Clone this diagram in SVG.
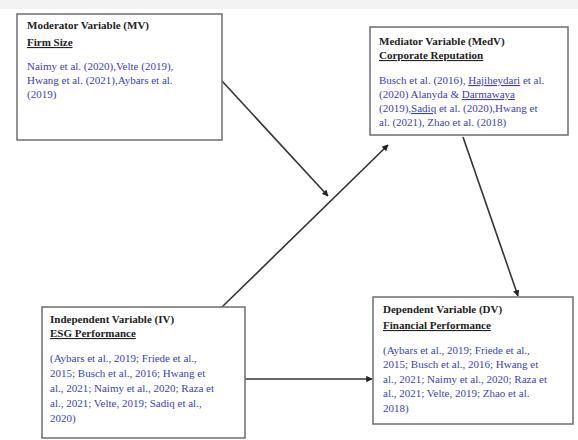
<svg xmlns="http://www.w3.org/2000/svg" width="578" height="440" viewBox="0 0 578 440">
<defs>
<style>
.box{fill:#fff;stroke:#6e6e6e;stroke-width:1.5}
.t{font-family:"Liberation Serif","Times New Roman",serif;font-size:11px;font-weight:bold;fill:#222}
.u{font-family:"Liberation Serif","Times New Roman",serif;font-size:11px;font-weight:bold;fill:#222;text-decoration:underline}
.r{font-family:"Liberation Serif","Times New Roman",serif;font-size:11px;fill:#3d3dc4}
.c{stroke:#333;stroke-width:1.6;fill:none;marker-end:url(#ah)}
</style>
<marker id="ah" viewBox="0 0 10 10" refX="9" refY="5" markerWidth="4" markerHeight="4" orient="auto" markerUnits="strokeWidth">
<path d="M0,0 L10,5 L0,10 z" fill="#222"/>
</marker>
</defs>
<rect x="0" y="0" width="578" height="440" fill="#fff"/>
<rect x="0" y="0" width="578" height="9" fill="#f3f3f3"/>

<g id="connectors">
<line class="c" x1="222" y1="81" x2="328" y2="196"/>
<line class="c" x1="222" y1="307" x2="388" y2="145"/>
<line class="c" x1="463" y1="137" x2="518" y2="296"/>
<line class="c" x1="245" y1="379" x2="372" y2="379"/>
</g>

<g id="mv">
<rect class="box" x="17" y="14" width="205" height="126"/>
<text class="t" x="27" y="29">Moderator Variable (MV)</text>
<text class="u" x="27" y="46">Firm Size</text>
<text class="r" x="27" y="70">Naimy et al. (2020),Velte (2019),</text>
<text class="r" x="27" y="84">Hwang et al. (2021),Aybars et al.</text>
<text class="r" x="27" y="98">(2019)</text>
</g>

<g id="medv">
<rect class="box" x="370" y="27" width="198" height="108"/>
<text class="t" x="379" y="45">Mediator Variable (MedV)</text>
<text class="u" x="379" y="59">Corporate Reputation</text>
<text class="r" x="379" y="84">Busch et al. (2016), <tspan text-decoration="underline">Hajiheydari</tspan> et al.</text>
<text class="r" x="379" y="98">(2020) Alanyda &amp; <tspan text-decoration="underline">Darmawaya</tspan></text>
<text class="r" x="379" y="112">(2019),<tspan text-decoration="underline">Sadiq</tspan> et al. (2020),Hwang et</text>
<text class="r" x="379" y="126">al. (2021), Zhao et al. (2018)</text>
</g>

<g id="iv">
<rect class="box" x="42" y="307" width="203" height="131"/>
<text class="t" x="50" y="323">Independent Variable (IV)</text>
<text class="u" x="50" y="337">ESG Performance</text>
<text class="r" x="50" y="362">(Aybars et al., 2019; Friede et al.,</text>
<text class="r" x="50" y="377">2015; Busch et al., 2016; Hwang et</text>
<text class="r" x="50" y="392">al., 2021; Naimy et al., 2020; Raza et</text>
<text class="r" x="50" y="407">al., 2021; Velte, 2019; Sadiq et al.,</text>
<text class="r" x="50" y="422">2020)</text>
</g>

<g id="dv">
<rect class="box" x="373" y="297" width="200" height="127"/>
<text class="t" x="383" y="313">Dependent Variable (DV)</text>
<text class="u" x="383" y="329">Financial Performance</text>
<text class="r" x="383" y="354">(Aybars et al., 2019; Friede et al.,</text>
<text class="r" x="383" y="368">2015; Busch et al., 2016; Hwang et</text>
<text class="r" x="383" y="383">al., 2021; Naimy et al., 2020; Raza et</text>
<text class="r" x="383" y="397">al., 2021; Velte, 2019; Zhao et al.</text>
<text class="r" x="383" y="412">2018)</text>
</g>
</svg>
